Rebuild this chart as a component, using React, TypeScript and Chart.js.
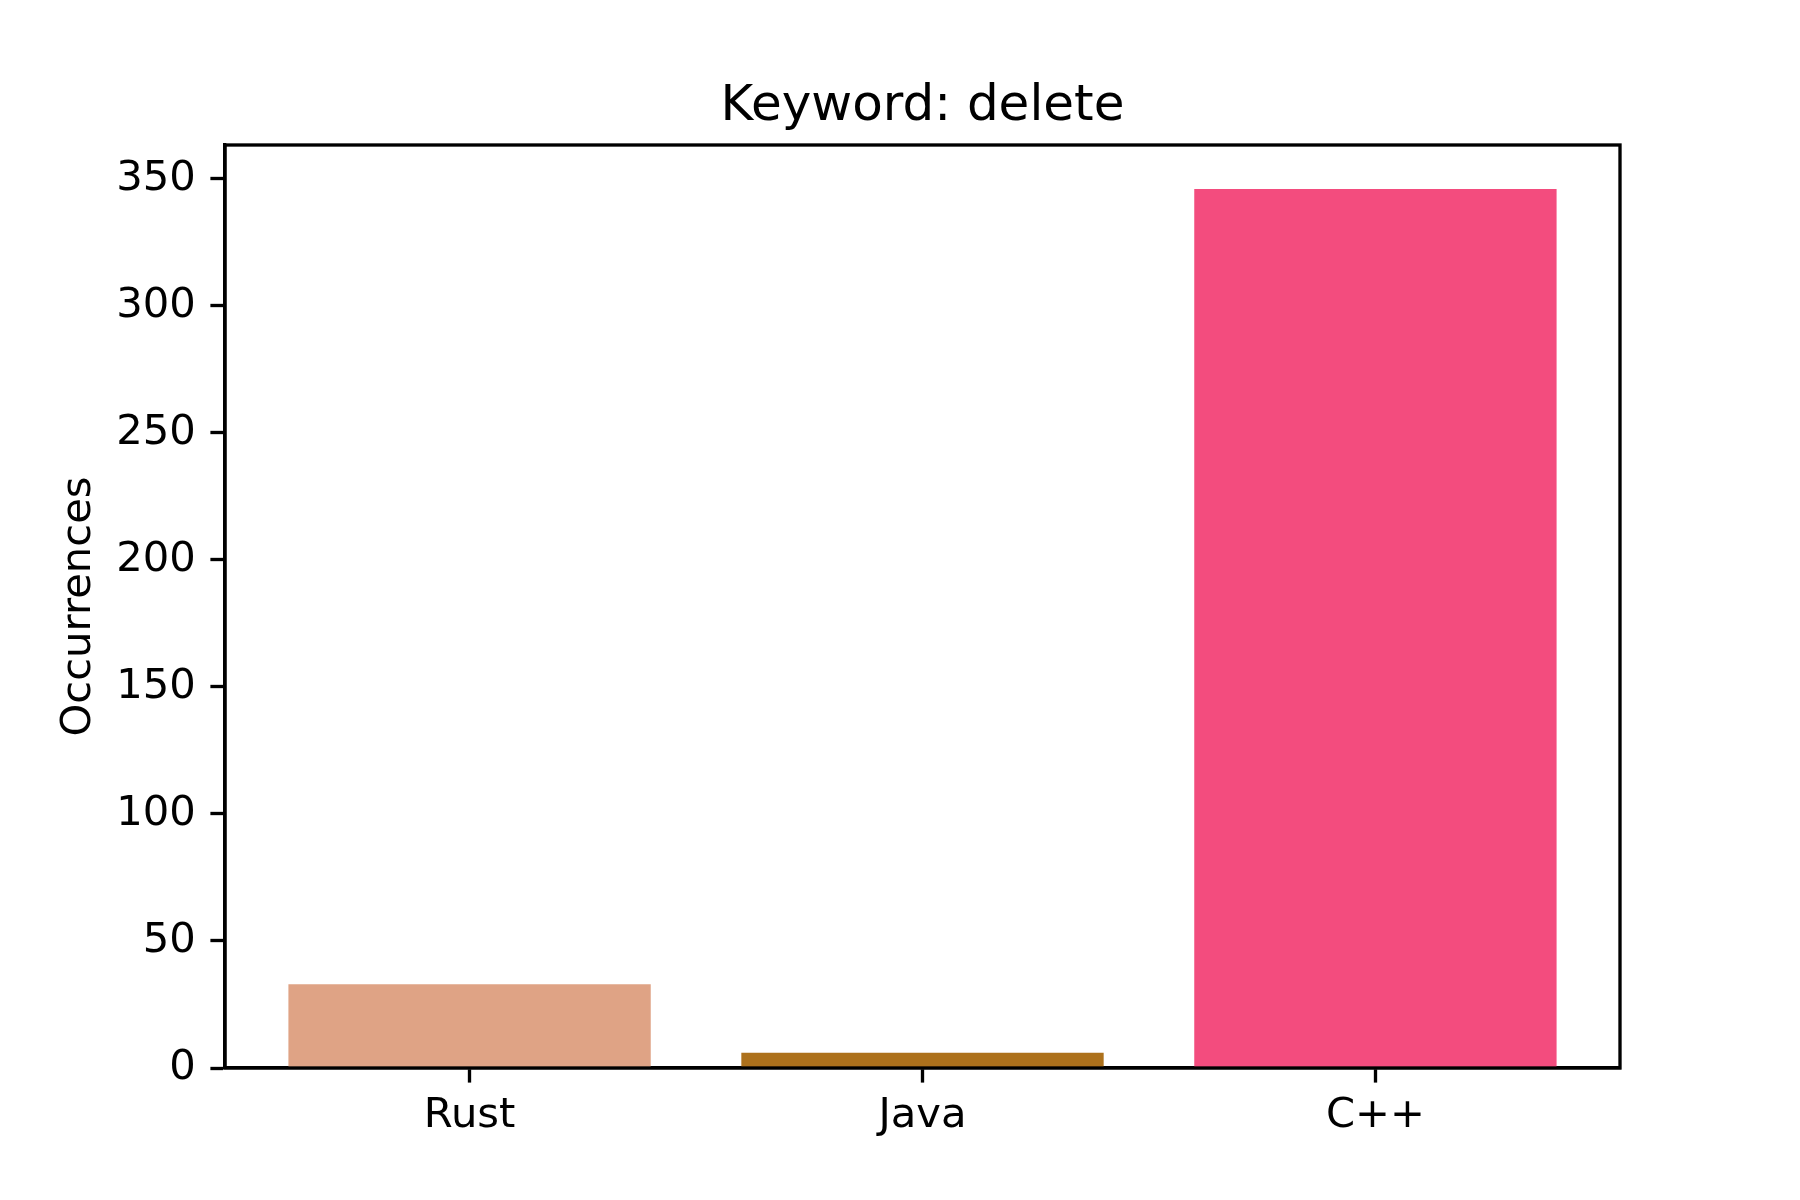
import React, { useEffect, useRef } from "react";
import { Chart, registerables } from "chart.js";

Chart.register(...registerables);

const categories = ["Rust", "Java", "C++"];
const occurrences = [33, 6, 346];
const barColors = ["#DFA385", "#AD711C", "#F34C7E"];
const yTicks = [0, 50, 100, 150, 200, 250, 300, 350];
const titleText = "Keyword: delete";
const yLabel = "Occurrences";

const FONT = "'DejaVu Sans', sans-serif";
const TICK_PX = 41.7;
const TICK_LEN = 14.6;
const LINE_W = 3.33;

export default function App() {
  const ref = useRef<HTMLCanvasElement | null>(null);

  useEffect(() => {
    if (!ref.current) return;
    const n = categories.length;
    const xMin = -0.4 - 0.05 * (n - 1 + 0.8);
    const xMax = n - 1 + 0.4 + 0.05 * (n - 1 + 0.8);
    const yMax = Math.max(...occurrences) * 1.05;

    const framePlugin = {
      id: "frame",
      afterDraw(chart: any) {
        const { ctx, chartArea } = chart;
        ctx.save();
        ctx.strokeStyle = "#000";
        ctx.lineWidth = LINE_W;
        ctx.strokeRect(
          chartArea.left,
          chartArea.top,
          chartArea.right - chartArea.left,
          chartArea.bottom - chartArea.top
        );
        ctx.fillStyle = "#000";
        ctx.font = `50px ${FONT}`;
        ctx.textAlign = "center";
        ctx.textBaseline = "alphabetic";
        ctx.fillText(titleText, (chartArea.left + chartArea.right) / 2, chartArea.top - 25);
        ctx.restore();
      },
    };

    const chart = new Chart(ref.current, {
      type: "bar",
      data: {
        datasets: [
          {
            data: occurrences.map((v, i) => ({ x: i, y: v })),
            backgroundColor: barColors,
            borderWidth: 0,
            barPercentage: 0.8,
            categoryPercentage: 1,
          },
        ],
      },
      options: {
        responsive: false,
        animation: false,
        layout: { padding: { top: 145, right: 180, left: 0, bottom: 0 } },
        plugins: {
          legend: { display: false },
          title: { display: false },
          tooltip: { enabled: false },
        },
        scales: {
          x: {
            type: "linear",
            min: xMin,
            max: xMax,
            offset: false,
            afterBuildTicks: (scale: any) => {
              scale.ticks = categories.map((_, i) => ({ value: i }));
            },
            afterFit: (scale: any) => {
              scale.height = 132;
            },
            ticks: {
              callback: (v: any) => categories[Math.round(Number(v))] ?? "",
              color: "#000",
              font: { family: FONT, size: TICK_PX },
              padding: 9,
              maxRotation: 0,
              autoSkip: false,
            },
            grid: {
              display: true,
              offset: false,
              drawOnChartArea: false,
              drawTicks: true,
              tickLength: TICK_LEN,
              tickWidth: LINE_W,
              tickColor: "#000",
            },
            border: { display: true, color: "#000", width: LINE_W },
          },
          y: {
            type: "linear",
            min: 0,
            max: yMax,
            afterBuildTicks: (scale: any) => {
              scale.ticks = yTicks.map((v) => ({ value: v }));
            },
            afterFit: (scale: any) => {
              scale.width = 225;
            },
            ticks: {
              color: "#000",
              font: { family: FONT, size: TICK_PX },
              padding: TICK_LEN,
              autoSkip: false,
            },
            grid: {
              display: true,
              offset: false,
              drawOnChartArea: false,
              drawTicks: true,
              tickLength: TICK_LEN,
              tickWidth: LINE_W,
              tickColor: "#000",
            },
            border: { display: true, color: "#000", width: LINE_W },
            title: {
              display: true,
              text: yLabel,
              color: "#000",
              font: { family: FONT, size: TICK_PX, lineHeight: 1.2 },
              padding: { top: 54, bottom: 0 },
            },
          },
        },
      },
      plugins: [framePlugin],
    } as any);

    return () => chart.destroy();
  }, []);

  return (
    <div style={{ position: "fixed", left: 0, top: 0, width: 1800, height: 1200, background: "#fff" }}>
      <canvas ref={ref} width={1800} height={1200} style={{ width: 1800, height: 1200 }} />
    </div>
  );
}
